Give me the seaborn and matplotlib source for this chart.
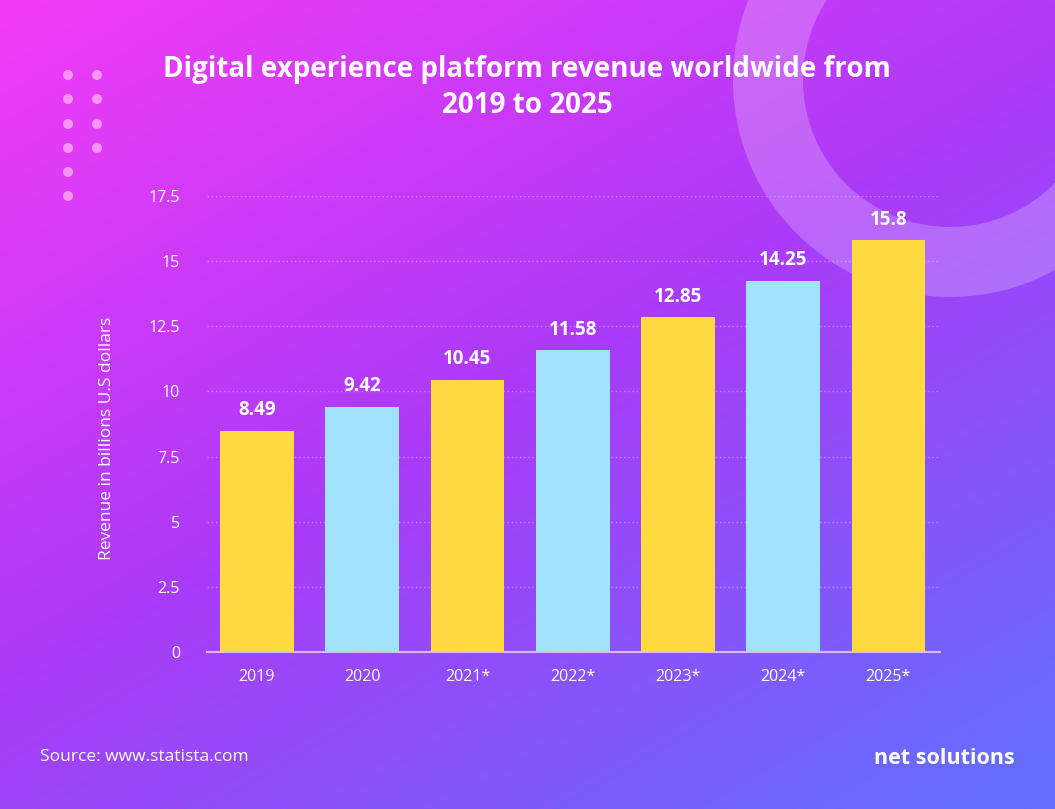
import numpy as np
import pandas as pd
import matplotlib
matplotlib.use("Agg")
import matplotlib.pyplot as plt
from matplotlib.patches import Wedge, Circle
import seaborn as sns

years = ["2019", "2020", "2021*", "2022*", "2023*", "2024*", "2025*"]
revenue = [8.49, 9.42, 10.45, 11.58, 12.85, 14.25, 15.8]
bar_colors = ["#FFD93F", "#A1E2FC", "#FFD93F", "#A1E2FC", "#FFD93F", "#A1E2FC", "#FFD93F"]
yticks = [0, 2.5, 5, 7.5, 10, 12.5, 15, 17.5]
ytick_labels = ["0", "2.5", "5", "7.5", "10", "12.5", "15", "17.5"]

df = pd.DataFrame({"year": years, "revenue": revenue})

sns.set_style("white")
plt.rcParams["font.family"] = ["Open Sans", "DejaVu Sans"]

W, H = 1055, 809
fig = plt.figure(figsize=(W / 100, H / 100), dpi=100)

# background gradient + decorations
bg = fig.add_axes([0, 0, 1, 1])
xx, yy = np.meshgrid(np.linspace(0, 1, 400), np.linspace(0, 1, 320))
t = np.clip(0.45 * xx + 0.6 * yy, 0, 1)
c0 = np.array([244, 60, 246]) / 255
c1 = np.array([172, 58, 248]) / 255
c2 = np.array([102, 108, 255]) / 255
tt = t[..., None]
img = np.where(tt < 0.5, c0 + (c1 - c0) * (tt / 0.5), c1 + (c2 - c1) * ((tt - 0.5) / 0.5))
bg.imshow(img, extent=[0, W, H, 0], aspect="auto", zorder=0)
bg.add_patch(Wedge((950, 80), 217, 0, 360, width=70, facecolor="white", alpha=0.22, lw=0, zorder=1))
for x, y in [(68, 75), (97, 75), (68, 99), (97, 99), (68, 124), (97, 124),
             (68, 148), (97, 148), (68, 172), (68, 196)]:
    bg.add_patch(Circle((x, y), 5, facecolor="#FFB3F5", alpha=0.75, lw=0, zorder=1))
bg.set_xlim(0, W)
bg.set_ylim(H, 0)
bg.axis("off")

bg.text(527, 69, "Digital experience platform revenue worldwide from", ha="center", va="center",
        color="white", fontsize=20, fontweight="bold")
bg.text(527, 105, "2019 to 2025", ha="center", va="center",
        color="white", fontsize=20, fontweight="bold")
bg.text(40, 757, "Source: www.statista.com", ha="left", va="center", color="white", fontsize=12.5)
bg.text(1015, 759, "net solutions", ha="right", va="center", color="white", fontsize=15.5, fontweight="bold")

# chart
ax = fig.add_axes([207 / W, 1 - 652 / H, (940 - 207) / W, (652 - 196) / H])
ax.patch.set_alpha(0)
sns.barplot(data=df, x="year", y="revenue", hue="year", palette=bar_colors, saturation=1,
            width=0.7, legend=False, ax=ax, zorder=3, linewidth=0, edgecolor="none")
for i, v in enumerate(revenue):
    ax.text(i, v + 0.4, f"{v:g}", ha="center", va="bottom", color="white",
            fontsize=13.5, fontweight="bold")

ax.set_ylim(0, 17.5)
ax.set_xlim(-0.475, 6.49)
ax.set_yticks(yticks)
ax.set_yticklabels(ytick_labels)
ax.yaxis.grid(True, linestyle=(0, (1, 2)), color="white", alpha=0.35, lw=1)
ax.set_axisbelow(True)
for s in ["top", "right", "left"]:
    ax.spines[s].set_visible(False)
ax.spines["bottom"].set_color("#D9B8F5")
ax.spines["bottom"].set_linewidth(1.5)
ax.tick_params(axis="both", length=0, colors="white", labelsize=11.5)
ax.tick_params(axis="y", pad=19.5)
ax.tick_params(axis="x", pad=12)
ax.set_xlabel("")
ax.set_ylabel("Revenue in billions U.S dollars", color="white", fontsize=12.5)
ax.yaxis.set_label_coords(-0.125, 0.469)

fig.savefig("out.png", dpi=100)
